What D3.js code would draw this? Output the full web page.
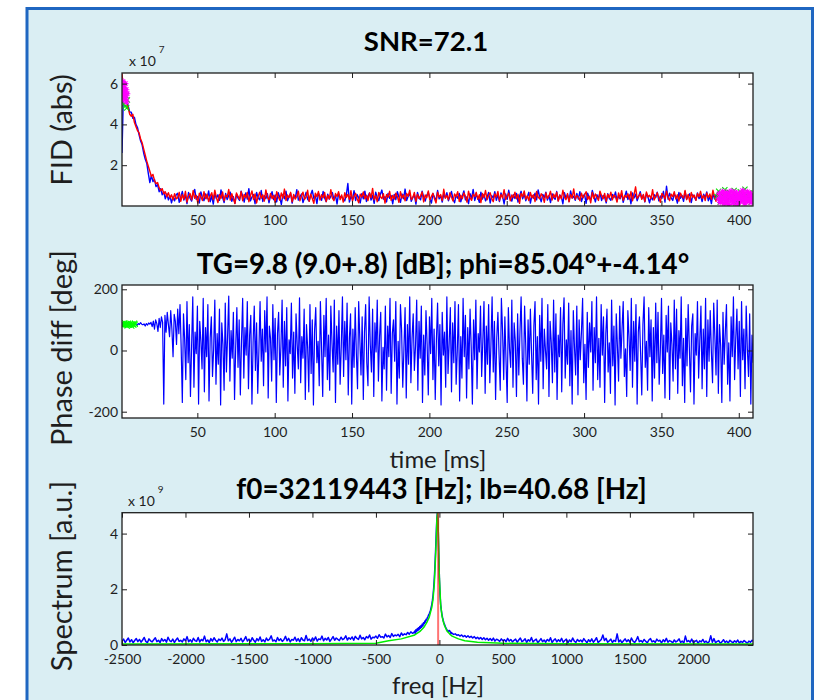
<!DOCTYPE html>
<html>
<head>
<meta charset="utf-8">
<script src="https://cdn.jsdelivr.net/npm/d3@7"></script>
<style>
  html, body { margin: 0; padding: 0; background: #ffffff; }
  svg { display: block; font-family: Lato, "Noto Sans", sans-serif; }
</style>
</head>
<body>
<svg id="chart" width="815" height="700"></svg>
<script>
// ---------- FID magnitude (x 1e7), one sample per ms from 1.3 ms ----------
const fidStart = 1.3, fidStep = 1;
const fidBlue = [
  2.6, 5.8, 5.5, 5.2, 4.9, 4.6, 4.6, 4.3, 4.35, 4.0, 3.85, 3.5, 3.2, 3.0, 2.6, 2.3, 2.1, 1.6,
  1.15, 1.5, 1.2, 1.3, 0.95, 1.05, 0.7, 0.85, 0.55, 0.7, 0.35, 0.6, 0.3, 0.5, 0.15, 0.45, 0.25, 0.55,
  0.62, 0.18, 0.45, 0.71, 0.29, 0.53, 0.12, 0.66, 0.38, 0.24, 0.57, 0.81, 0.33, 0.47, 0.15, 0.69, 0.41, 0.26, 0.59, 0.35,
  0.74, 0.21, 0.50, 0.09, 0.63, 0.37, 0.55, 0.28, 0.79, 0.43, 0.17, 0.61, 0.32, 0.52, 0.68, 0.23, 0.46, 0.13, 0.58, 0.39,
  0.27, 0.72, 0.49, 0.19, 0.64, 0.34, 0.85, 0.25, 0.44, 0.56, 0.11, 0.67, 0.40, 0.30, 0.76, 0.22, 0.51, 0.36, 0.60, 0.16,
  0.48, 0.70, 0.31, 0.54, 0.20, 0.65, 0.42, 0.08, 0.57, 0.35, 0.73, 0.26, 0.46, 0.62, 0.14, 0.52, 0.38, 0.80, 0.29, 0.44,
  0.59, 0.17, 0.41, 0.67, 0.33, 0.24, 0.55, 0.77, 0.37, 0.50, 0.12, 0.63, 0.45, 0.28, 0.71, 0.39, 0.21, 0.58, 0.34, 0.47,
  0.66, 0.30, 0.52, 0.10, 0.61, 0.43, 0.46, 0.36, 0.25, 0.54, 1.10, 0.19, 0.48, 0.32, 0.75, 0.27, 0.56, 0.40, 0.15, 0.60,
  0.35, 0.73, 0.22, 0.49, 0.64, 0.29, 0.53, 0.13, 0.68, 0.41, 0.26, 0.57, 0.78, 0.34, 0.46, 0.20, 0.62, 0.38, 0.51, 0.11,
  0.57, 0.31, 0.70, 0.44, 0.18, 0.59, 0.36, 0.83, 0.27, 0.48, 0.63, 0.23, 0.42, 0.55, 0.09, 0.66, 0.39, 0.30, 0.72, 0.45,
  0.24, 0.52, 0.67, 0.37, 0.14, 0.61, 0.43, 0.28, 0.76, 0.35, 0.50, 0.19, 0.58, 0.40, 0.65, 0.26, 0.47, 0.71, 0.33, 0.16,
  0.54, 0.38, 0.62, 0.21, 0.49, 0.74, 0.30, 0.45, 0.12, 0.60, 0.36, 0.81, 0.27, 0.53, 0.42, 0.18, 0.68, 0.34, 0.57, 0.25,
  0.43, 0.66, 0.15, 0.51, 0.39, 0.70, 0.28, 0.56, 0.22, 0.64, 0.47, 0.10, 0.59, 0.33, 0.77, 0.41, 0.24, 0.55, 0.37, 0.62,
  0.19, 0.48, 0.72, 0.35, 0.58, 0.26, 0.45, 0.67, 0.14, 0.52, 0.38, 0.63, 0.30, 0.79, 0.44, 0.21, 0.57, 0.40, 0.68, 0.29,
  0.51, 0.17, 0.60, 0.42, 0.33, 0.71, 0.25, 0.54, 0.46, 0.11, 0.65, 0.37, 0.56, 0.23, 0.74, 0.39, 0.48, 0.28, 0.61, 0.34,
  0.70, 0.22, 0.45, 0.58, 0.13, 0.63, 0.40, 0.31, 0.76, 0.49, 0.20, 0.55, 0.36, 0.67, 0.27, 0.52, 0.43, 0.15, 0.60, 0.38,
  0.28, 0.57, 0.41, 0.69, 0.24, 0.50, 0.35, 0.62, 0.18, 0.46, 0.73, 0.32, 0.54, 0.11, 0.64, 0.39, 0.58, 0.26, 0.47, 0.70,
  0.36, 0.53, 0.20, 0.61, 0.44, 0.16, 0.45, 0.30, 0.56, 0.42, 0.68, 0.25, 0.49, 0.37, 0.72, 0.19, 0.97, 0.33, 0.63, 0.40,
  0.27, 0.59, 0.45, 0.14, 0.66, 0.38, 0.52, 0.23, 0.71, 0.34, 0.48, 0.60, 0.17, 0.55, 0.43, 0.29, 0.64, 0.36, 0.51, 0.22,
  0.58, 0.41, 0.69, 0.26, 0.47, 0.12, 0.62, 0.35, 0.54, 0.44, 0.20, 0.67, 0.31, 0.50, 0.39, 0.73, 0.24, 0.57, 0.42, 0.33,
  0.61, 0.18, 0.49, 0.37, 0.56, 0.28, 0.45, 0.66, 0.21, 0.52, 0.40, 0.30, 0.58
];
const fidRed = [
  6.5, 5.6, 5.3, 5.0, 4.8, 4.5, 4.4, 4.5, 4.1, 3.9, 3.7, 3.6, 3.3, 3.1, 2.8, 2.5, 2.2, 1.95,
  1.7, 1.45, 1.55, 1.25, 1.1, 1.15, 0.9, 0.75, 0.85, 0.6, 0.7, 0.45, 0.65, 0.4, 0.55, 0.3, 0.6, 0.35,
  0.41, 0.67, 0.23, 0.55, 0.34, 0.72, 0.19, 0.48, 0.61, 0.30, 0.76, 0.38, 0.52, 0.14, 0.63, 0.45, 0.27, 0.70, 0.36, 0.58,
  0.22, 0.49, 0.65, 0.31, 0.78, 0.42, 0.17, 0.56, 0.37, 0.69, 0.25, 0.53, 0.44, 0.81, 0.29, 0.60, 0.35, 0.12, 0.64, 0.47,
  0.33, 0.71, 0.26, 0.57, 0.40, 0.66, 0.21, 0.50, 0.74, 0.32, 0.59, 0.15, 0.46, 0.68, 0.38, 0.55, 0.24, 0.79, 0.43, 0.30,
  0.62, 0.36, 0.52, 0.18, 0.70, 0.45, 0.28, 0.64, 0.39, 0.83, 0.27, 0.54, 0.41, 0.67, 0.20, 0.57, 0.34, 0.48, 0.73, 0.25,
  0.50, 0.68, 0.32, 0.44, 0.77, 0.23, 0.58, 0.37, 0.13, 0.63, 0.46, 0.71, 0.29, 0.55, 0.40, 0.66, 0.22, 0.52, 0.35, 0.80,
  0.38, 0.26, 0.61, 0.47, 0.70, 0.31, 0.54, 0.19, 0.65, 0.42, 0.57, 0.33, 0.75, 0.24, 0.49, 0.62, 0.36, 0.16, 0.58, 0.44,
  0.69, 0.35, 0.53, 0.27, 0.64, 0.40, 0.86, 0.30, 0.51, 0.21, 0.67, 0.45, 0.37, 0.60, 0.14, 0.56, 0.43, 0.72, 0.28, 0.52,
  0.34, 0.63, 0.46, 0.18, 0.70, 0.39, 0.55, 0.25, 0.61, 0.48, 0.78, 0.32, 0.42, 0.66, 0.23, 0.57, 0.37, 0.50, 0.69, 0.20,
  0.54, 0.41, 0.74, 0.29, 0.47, 0.62, 0.35, 0.15, 0.68, 0.44, 0.56, 0.27, 0.82, 0.38, 0.51, 0.31, 0.65, 0.43, 0.24, 0.59,
  0.45, 0.70, 0.22, 0.53, 0.36, 0.64, 0.48, 0.19, 0.73, 0.40, 0.28, 0.58, 0.46, 0.67, 0.33, 0.55, 0.17, 0.61, 0.42, 0.76,
  0.30, 0.52, 0.65, 0.37, 0.21, 0.59, 0.44, 0.71, 0.26, 0.56, 0.39, 0.80, 0.32, 0.48, 0.63, 0.25, 0.54, 0.41, 0.68, 0.35,
  0.57, 0.13, 0.62, 0.45, 0.74, 0.34, 0.50, 0.27, 0.66, 0.40, 0.55, 0.22, 0.71, 0.43, 0.36, 0.60, 0.47, 0.18, 0.64, 0.38,
  0.49, 0.72, 0.29, 0.58, 0.42, 0.67, 0.24, 0.53, 0.35, 0.77, 0.45, 0.31, 0.61, 0.20, 0.56, 0.39, 0.84, 0.33, 0.52, 0.44,
  0.26, 0.63, 0.40, 0.55, 0.70, 0.32, 0.48, 0.16, 0.66, 0.37, 0.59, 0.43, 0.27, 0.73, 0.50, 0.35, 0.62, 0.23, 0.57, 0.41,
  0.68, 0.30, 0.54, 0.45, 0.19, 0.64, 0.38, 0.75, 0.28, 0.52, 0.42, 0.60, 0.34, 0.71, 0.25, 0.56, 0.94, 0.37, 0.49, 0.61,
  0.33, 0.57, 0.22, 0.69, 0.44, 0.53, 0.36, 0.80, 0.29, 0.47, 0.65, 0.40, 0.18, 0.62, 0.51, 0.34, 0.73, 0.43, 0.26, 0.58,
  0.46, 0.70, 0.35, 0.55, 0.24, 0.63, 0.48, 0.39, 0.76, 0.31, 0.57, 0.20, 0.66, 0.42, 0.53, 0.28, 0.61, 0.45, 0.72, 0.37,
  0.52, 0.27, 0.64, 0.41, 0.59, 0.33, 0.78, 0.46, 0.23, 0.62, 0.38, 0.55, 0.30, 0.69, 0.44, 0.17, 0.57, 0.36, 0.50, 0.65,
  0.32, 0.58, 0.43, 0.26, 0.61, 0.47, 0.35, 0.53, 0.40, 0.63, 0.29, 0.49, 0.38
];
// samples used for the signal and noise estimates
const fidHeadStarStart = 1.3, fidHeadStarStep = 0.3;
const fidHeadStar = [5.9, 5.4, 6.1, 5.6, 5.2, 5.8, 5.5, 6.0, 5.3, 5.7, 5.1, 5.5];
const fidHeadCrossStart = 1.4, fidHeadCrossStep = 0.42;
const fidHeadCross = [5.7, 5.3, 5.9, 5.0, 5.6, 4.9, 5.4, 4.8, 5.2];
const fidTailStarStart = 387, fidTailStarStep = 0.5;
const fidTailStar = [
  0.35, 0.62, 0.18, 0.48, 0.27, 0.70, 0.41, 0.12, 0.55, 0.33,
  0.66, 0.22, 0.45, 0.08, 0.58, 0.38, 0.73, 0.25, 0.50, 0.15,
  0.43, 0.68, 0.30, 0.57, 0.10, 0.47, 0.36, 0.64, 0.20, 0.52,
  0.40, 0.75, 0.28, 0.60, 0.14, 0.44, 0.34, 0.69, 0.23, 0.54,
  0.31, 0.63, 0.17, 0.49, 0.39
];
const fidTailCrossStart = 386, fidTailCrossStep = 1;
const fidTailCross = [0.45, 0.72, 0.20, 0.58, 0.33, 0.80, 0.15, 0.50, 0.66, 0.28, 0.42, 0.76,
  0.12, 0.60, 0.37, 0.70, 0.24, 0.53, 0.82, 0.30, 0.47, 0.64, 0.18, 0.56];

// ---------- phase difference (deg), one sample per 0.75 ms from 1.3 ms ----------
const phaseStart = 1.3, phaseStep = 0.75;
const phaseDiff = [
  84, 86, 83, 87, 85, 88, 84, 86, 90, 85, 87, 83, 86, 82, 88, 85, 91, 86,
  84, 87, 80, 88, 83, 90, 86, 92,
  78, 96, 70, 100, 88, 62, 105, 75, 110, 92,
  -175,
  115, 60, 125, 85, 45, 130, 70, -20, 118, 95, 20, 135, 55, 150, 10,
  -170, 120, 35, -95, 160, -40, 85, -150, 15, 175, -120, 60, -10, 145, -175, 95, 30, -60, 170, -135,
  75, -20, 150, -165, 40, 110, -85, 5, 165, -110, 55, -45, 135, -178, 90, 20, -130, 155, -70, 45,
  178, -100, 65, -25, 125, -160, 10, 140, -55, 100, -145, 30, 170, -90, 75, -15, 160, -125, 50, 115,
  -175, 25, 145, -65, 90, -140, 0, 160, -35, 70, -115, 130, -5, 175, -155, 80, 40, -100, 150, -30,
  105, -170, 55, 125, -80, 15, 165, -120, 95, -50, 140, -165, 35, -10, 155, -90, 60, -140, 120, 20,
  -60, 172, -105, 45, -25, 135, -160, 85, 10, -135, 150, -75, 100, -178, 65, 140, -40, 30, -115, 160,
  5, -150, 115, -20, 170, -95, 50, -130, 145, 25, -70, 165, -170, 80, -45, 130, -110, 15, 175, -85,
  95, -30, 155, -145, 40, 120, -175, 70, -55, 140, -10, -125, 160, 35, -80, 110, -160, 60, 150, -40,
  -115, 175, 20, -70, 135, -150, 90, -5, 165, -100, 45, 125, -165, 10, -60, 145, -130, 80, -20, 170,
  -140, 55, 100, -35, 160, -175, 30, -90, 150, 65, -120, 5, 140, -155, 85, -45, 175, -105, 40, 120,
  -65, 15, 165, -130, 95, -25, 145, -170, 50, -80, 130, 20, -145, 110, -10, 170, -95, 70, -160, 35,
  155, -50, 85, -178, 125, -15, 60, -120, 175, -75, 25, 140, -135, 90, -40, 160, -110, 0, 150, -165,
  45, -90, 170, -20, 115, -155, 75, -60, 135, 10, -175, 100, -30, 165, -125, 55, -5, 145, -85, 30,
  160, -140, 80, -45, 150, -105, 20, 175, -70, 95, -160, 40, 125, -15, -130, 170, 65, -95, 110, -35,
  -170, 140, 5, -55, 165, -120, 90, 30, -150, 120, -80, 60, 175, -25, -110, 145, 15, -165, 100, -45,
  135, -10, -140, 80, 160, -95, 45, -175, 115, -35, 170, -125, 70, 0, -60, 150, -150, 95, 25, -105,
  165, -70, 120, -160, 50, -20, 140, -135, 85, 172, -90, 35, -45, 155, -115, 65, -175, 130, 10, -80,
  145, -145, 100, -30, 60, 170, -105, 20, -160, 125, -55, 90, -5, 160, -130, 75, -40, 175, -95, 40,
  -120, 150, -15, 110, -170, 55, 135, -70, 25, -140, 165, -50, 80, -178, 120, 15, -100, 145, -25, 70,
  160, -85, 5, -150, 130, 45, -65, 170, -120, 95, -35, 150, -175, 60, 110, -10, -145, 85, 175, -55,
  30, -130, 140, -20, 100, -165, 75, -90, 155, -40, 125, -110, 0, 170, -75, 50, -155, 115, -5, 145,
  -160, 90, 20, -100, 165, -60, 135, -140, 65, -25, 175, -115, 40, -170, 105, -50, 150, 10, -135, 80,
  120, -175, 55, -15, 160, -90, 30, 145, -125, 70, -60, 170, -150, 100, -35, 130, -5, -105, 155, 45,
  -80, 165, -140, 85, 15, -170, 125, -45, 60, 150, -110, 25, -165, 110, -20, 175, -95, 40, 135, -60,
  95, -150, 160, -30, 70, -125, 145, 5, -85, 120, -175, 50, -40
];
const phaseCrossStart = 1.3, phaseCrossStep = 0.45;
const phaseCross = [85, 88, 82, 86, 90, 84, 87, 81, 86, 89, 83, 85, 88, 84, 80, 87, 85, 83, 89, 86];

// ---------- spectrum (x 1e9) ----------
const specStepWide = 12.5, specStepFine = 5;
const specLeft = [
  0.14, 0.21, 0.09, 0.17, 0.25, 0.11, 0.19, 0.08, 0.16, 0.23, 0.12, 0.20, 0.10, 0.18, 0.27, 0.13, 0.08, 0.22, 0.15, 0.11,
  0.19, 0.26, 0.12, 0.17, 0.09, 0.23, 0.14, 0.20, 0.10, 0.28, 0.16, 0.12, 0.21, 0.09, 0.18, 0.25, 0.13, 0.17, 0.11, 0.22,
  0.15, 0.30, 0.12, 0.19, 0.10, 0.24, 0.16, 0.13, 0.27, 0.11, 0.20, 0.15, 0.32, 0.12, 0.18, 0.09, 0.23, 0.14, 0.26, 0.17,
  0.11, 0.21, 0.16, 0.25, 0.13, 0.19, 0.40, 0.15, 0.22, 0.10, 0.18, 0.28, 0.12, 0.20, 0.15, 0.24, 0.11, 0.19, 0.30, 0.14,
  0.21, 0.12, 0.26, 0.17, 0.10, 0.23, 0.15, 0.29, 0.13, 0.19, 0.11, 0.25, 0.16, 0.21, 0.33, 0.14, 0.18, 0.12, 0.27, 0.16,
  0.22, 0.13, 0.19, 0.31, 0.15, 0.24, 0.11, 0.20, 0.17, 0.28, 0.14, 0.23, 0.12, 0.26, 0.18, 0.15, 0.34, 0.16, 0.21, 0.13,
  0.25, 0.17, 0.29, 0.14, 0.22, 0.19, 0.32, 0.15, 0.24, 0.18, 0.27, 0.13, 0.21, 0.30, 0.17, 0.25, 0.20, 0.16, 0.28, 0.19,
  0.23, 0.33, 0.18, 0.26, 0.21, 0.29, 0.17, 0.31, 0.24, 0.20, 0.35, 0.22, 0.27, 0.19, 0.30, 0.25, 0.36, 0.21, 0.28, 0.26,
  0.32, 0.24, 0.37, 0.28, 0.30, 0.25, 0.39, 0.29, 0.34, 0.27, 0.41, 0.31, 0.36, 0.33, 0.38, 0.30, 0.43, 0.35, 0.40, 0.37,
  0.45, 0.39, 0.47, 0.42
];
const specPeak = [
  0.45, 0.50, 0.42, 0.55, 0.48, 0.58, 0.52, 0.62, 0.55, 0.66,
  0.60, 0.70, 0.64, 0.75, 0.68, 0.80, 0.76, 0.86, 0.82, 0.92,
  0.90, 0.98, 1.02, 1.08, 1.12, 1.18, 1.25, 1.35, 1.45, 1.60,
  1.78, 2.05, 2.40, 2.85, 3.40, 4.00, 4.55, 4.80, 4.30, 3.30,
  2.40, 1.80, 1.45, 1.25, 1.10, 0.98, 0.88, 0.80, 0.74, 0.68,
  0.62, 0.58, 0.54, 0.50, 0.47, 0.52, 0.52, 0.48, 0.41, 0.45
];
const specRight = [
  0.42, 0.38, 0.40, 0.35, 0.37, 0.32, 0.36, 0.30, 0.34, 0.28, 0.33, 0.27, 0.31, 0.25, 0.30, 0.23, 0.28, 0.22, 0.27, 0.20,
  0.26, 0.19, 0.24, 0.17, 0.23, 0.16, 0.25, 0.14, 0.21, 0.18, 0.13, 0.22, 0.15, 0.19, 0.12, 0.24, 0.14, 0.20, 0.11, 0.17,
  0.21, 0.10, 0.18, 0.25, 0.12, 0.16, 0.22, 0.09, 0.19, 0.14, 0.27, 0.11, 0.17, 0.21, 0.08, 0.15, 0.23, 0.12, 0.18, 0.10,
  0.20, 0.14, 0.26, 0.09, 0.17, 0.22, 0.11, 0.19, 0.13, 0.24, 0.10, 0.16, 0.21, 0.08, 0.18, 0.12, 0.25, 0.14, 0.09, 0.20,
  0.13, 0.18, 0.11, 0.23, 0.15, 0.08, 0.19, 0.12, 0.22, 0.10, 0.17, 0.26, 0.09, 0.14, 0.20, 0.36, 0.16, 0.24, 0.10, 0.15,
  0.21, 0.09, 0.17, 0.13, 0.40, 0.11, 0.18, 0.08, 0.15, 0.22, 0.12, 0.19, 0.10, 0.25, 0.14, 0.09, 0.17, 0.30, 0.12, 0.16,
  0.10, 0.20, 0.13, 0.08, 0.18, 0.23, 0.11, 0.15, 0.09, 0.21, 0.14, 0.17, 0.07, 0.19, 0.12, 0.24, 0.10, 0.16, 0.13, 0.08,
  0.18, 0.11, 0.15, 0.22, 0.09, 0.14, 0.07, 0.32, 0.12, 0.16, 0.10, 0.21, 0.08, 0.13, 0.17, 0.06, 0.15, 0.11, 0.20, 0.09,
  0.14, 0.07, 0.12, 0.33, 0.10, 0.23, 0.08, 0.13, 0.16, 0.06, 0.11, 0.19, 0.09, 0.14, 0.07, 0.17, 0.12, 0.08, 0.15, 0.10,
  0.18, 0.07, 0.13, 0.09, 0.16, 0.11, 0.06, 0.14, 0.10, 0.17, 0.12
];
// Lorentzian fit evaluated at a few frequencies
const fitFreq = [-2500, -1000, -500, -400, -300, -200, -150, -120, -100, -80, -60, -50, -40, -30,
  -25, -20, -15, -10, -5, 0, 10, 20, 30, 40, 60, 80, 100, 150, 200, 300, 500, 1000, 2470];
const fitVal = [0.04, 0.045, 0.06, 0.15, 0.22, 0.35, 0.50, 0.65, 0.80, 1.00, 1.35, 1.65, 2.20, 3.20,
  3.80, 4.50, 4.75, 4.30, 3.30, 2.40, 1.45, 1.05, 0.85, 0.70, 0.50, 0.40, 0.32, 0.22, 0.15, 0.10,
  0.06, 0.045, 0.04];
const f0Offset = -10;

// ---------- axis ticks and labels ----------
const timeTicks = [50, 100, 150, 200, 250, 300, 350, 400];
const fidTicks = [2, 4, 6];
const phaseTicks = [-200, 0, 200];
const freqTicks = [-2500, -2000, -1500, -1000, -500, 0, 500, 1000, 1500, 2000];
const specTicks = [0, 2, 4];
const titles = ["SNR=72.1", "TG=9.8 (9.0+.8) [dB]; phi=85.04°+-4.14°", "f0=32119443 [Hz]; lb=40.68 [Hz]"];
const yLabels = ["FID (abs)", "Phase diff [deg]", "Spectrum [a.u.]"];
const xLabels = ["time [ms]", "freq [Hz]"];

// ---------- drawing ----------
const svg = d3.select("#chart");
const INK = "#1e1e1e";

svg.append("rect")
  .attr("x", 27).attr("y", 8.5).attr("width", 785.5).attr("height", 720)
  .attr("fill", "#daeef3").attr("stroke", "#1f66c1").attr("stroke-width", 3);

const L = 122, R = 753;
const boxes = [
  { top: 73, bottom: 206 },
  { top: 285, bottom: 418 },
  { top: 512.7, bottom: 645 }
];

const xTime = d3.scaleLinear().domain([1.3, 409.2]).range([L, R]);
const xFreq = d3.scaleLinear().domain([-2500, 2470]).range([L, R]);
const yFid = d3.scaleLinear().domain([0, 6.52]).range([boxes[0].bottom, boxes[0].top]);
const yPhase = d3.scaleLinear().domain([-220.6, 214]).range([boxes[1].bottom, boxes[1].top]);
const ySpec = d3.scaleLinear().domain([0, 4.75]).range([boxes[2].bottom, boxes[2].top]);

function plotArea(i) {
  const b = boxes[i];
  svg.append("rect").attr("x", L).attr("y", b.top).attr("width", R - L).attr("height", b.bottom - b.top)
    .attr("fill", "#ffffff");
  svg.append("clipPath").attr("id", "clip" + i)
    .append("rect").attr("x", L).attr("y", b.top).attr("width", R - L).attr("height", b.bottom - b.top);
  return svg.append("g").attr("clip-path", `url(#clip${i})`);
}

function axes(i, x, y, xt, yt) {
  const b = boxes[i];
  const fmt = d => String(d);
  const style = g => {
    g.select(".domain").remove();
    g.selectAll(".tick line").attr("stroke", INK).attr("stroke-width", 1);
    g.selectAll(".tick text").attr("fill", INK).attr("font-size", 14)
      .attr("font-family", "Lato, 'Noto Sans', sans-serif");
  };
  svg.append("g").attr("transform", `translate(0,${b.bottom})`)
    .call(d3.axisBottom(x).tickValues(xt).tickFormat(fmt).tickSizeInner(-5).tickSizeOuter(0).tickPadding(9))
    .call(style);
  svg.append("g").attr("transform", `translate(0,${b.top})`)
    .call(d3.axisTop(x).tickValues(xt).tickFormat("").tickSizeInner(-5).tickSizeOuter(0))
    .call(style);
  svg.append("g").attr("transform", `translate(${L},0)`)
    .call(d3.axisLeft(y).tickValues(yt).tickFormat(fmt).tickSizeInner(-5).tickSizeOuter(0).tickPadding(4))
    .call(style);
  svg.append("g").attr("transform", `translate(${R},0)`)
    .call(d3.axisRight(y).tickValues(yt).tickFormat("").tickSizeInner(-5).tickSizeOuter(0))
    .call(style);
  svg.append("rect").attr("x", L).attr("y", b.top).attr("width", R - L).attr("height", b.bottom - b.top)
    .attr("fill", "none").attr("stroke", INK).attr("stroke-width", 1.3);
}

function series(g, xs, ys, x, y, color, width) {
  const pts = ys.map((v, k) => [xs(k), v]);
  g.append("path").datum(pts)
    .attr("d", d3.line().x(d => x(d[0])).y(d => y(d[1])))
    .attr("fill", "none").attr("stroke", color).attr("stroke-width", width)
    .attr("stroke-linejoin", "round");
}

const STAR = "M-3.2,0H3.2M0,-3.2V3.2M-2.3,-2.3L2.3,2.3M-2.3,2.3L2.3,-2.3";
const CROSS = "M-2.6,-2.6L2.6,2.6M-2.6,2.6L2.6,-2.6";
function markers(g, t0, dt, vals, x, y, shape, color) {
  g.selectAll(null).data(vals).join("path")
    .attr("transform", (v, k) => `translate(${x(t0 + k * dt)},${y(v)})`)
    .attr("d", shape).attr("fill", "none").attr("stroke", color).attr("stroke-width", 1.1);
}

function title(text, cx, baseline, size) {
  svg.append("text").attr("x", cx).attr("y", baseline).attr("text-anchor", "middle")
    .attr("font-size", size).attr("font-weight", 700).attr("fill", "#000").text(text);
}
function yLabel(text, cy) {
  svg.append("text").attr("transform", `translate(72,${cy}) rotate(-90)`)
    .attr("text-anchor", "middle").attr("font-size", 29).attr("fill", INK).text(text);
}
function xLabel(text, baseline) {
  svg.append("text").attr("x", 438).attr("y", baseline).attr("text-anchor", "middle")
    .attr("font-size", 24).attr("fill", INK).text(text);
}
function exponent(x0, baseline, power) {
  const t = svg.append("text").attr("x", x0).attr("y", baseline).attr("fill", INK).attr("font-size", 14);
  t.append("tspan").text("x 10");
  t.append("tspan").attr("dx", 3).attr("dy", -13).attr("font-size", 10).text(power);
}

// panel 1: FID magnitude
{
  const g = plotArea(0);
  const tx = k => fidStart + k * fidStep;
  series(g, tx, fidBlue, xTime, yFid, "#0000ff", 1.4);
  series(g, tx, fidRed, xTime, yFid, "#ff0000", 1.4);
  markers(g, fidHeadCrossStart, fidHeadCrossStep, fidHeadCross, xTime, yFid, CROSS, "#00e000");
  markers(g, fidTailCrossStart, fidTailCrossStep, fidTailCross, xTime, yFid, CROSS, "#00e000");
  markers(g, fidHeadStarStart, fidHeadStarStep, fidHeadStar, xTime, yFid, STAR, "#ff00ff");
  markers(g, fidTailStarStart, fidTailStarStep, fidTailStar, xTime, yFid, STAR, "#ff00ff");
  axes(0, xTime, yFid, timeTicks, fidTicks);
  exponent(129, 66, "7");
  title(titles[0], 426, 51, 27.5);
  yLabel(yLabels[0], 130);
}

// panel 2: phase difference
{
  const g = plotArea(1);
  series(g, k => phaseStart + k * phaseStep, phaseDiff, xTime, yPhase, "#0000ff", 1.2);
  markers(g, phaseCrossStart, phaseCrossStep, phaseCross, xTime, yPhase, CROSS, "#00ff00");
  axes(1, xTime, yPhase, timeTicks, phaseTicks);
  title(titles[1], 443, 273.5, 27.8);
  yLabel(yLabels[1], 348);
  xLabel(xLabels[0], 468);
}

// panel 3: spectrum
{
  const g = plotArea(2);
  const freqs = [].concat(
    d3.range(-2500, -200, specStepWide),
    d3.range(-200, 100, specStepFine),
    d3.range(100, 2480, specStepWide)
  );
  const vals = [].concat(specLeft, specPeak, specRight);
  series(g, k => freqs[k], vals, xFreq, ySpec, "#0000ff", 1.5);
  series(g, k => fitFreq[k], fitVal, xFreq, ySpec, "#00ee00", 1.5);
  g.append("line")
    .attr("x1", xFreq(f0Offset)).attr("x2", xFreq(f0Offset))
    .attr("y1", ySpec(0)).attr("y2", ySpec(4.75))
    .attr("stroke", "#ff0000").attr("stroke-opacity", 0.55).attr("stroke-width", 2);
  axes(2, xFreq, ySpec, freqTicks, specTicks);
  exponent(128, 506, "9");
  title(titles[2], 441.5, 498.5, 27.8);
  yLabel(yLabels[2], 576);
  xLabel(xLabels[1], 694);
}
</script>
</body>
</html>
